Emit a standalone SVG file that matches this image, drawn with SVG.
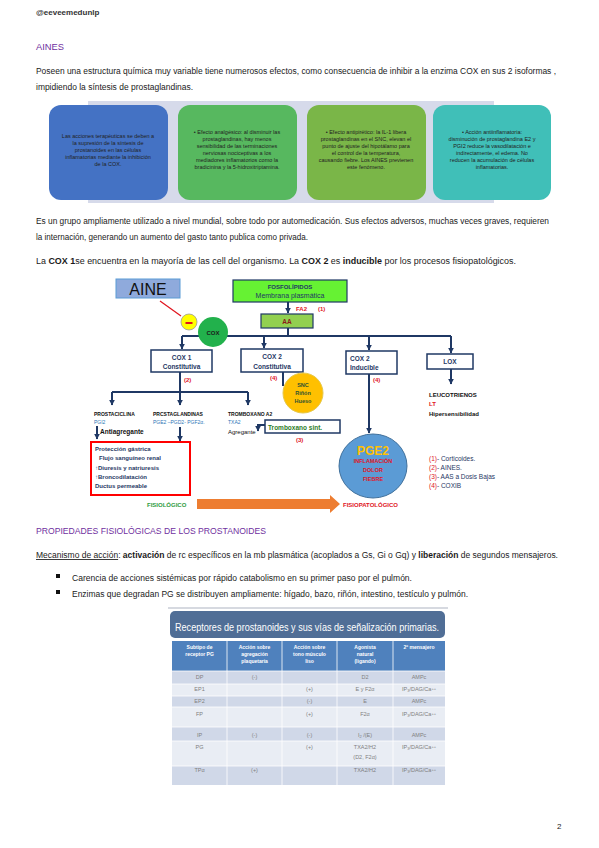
<svg xmlns="http://www.w3.org/2000/svg" width="599" height="848" viewBox="0 0 599 848">
<defs>
<style>
.body{font-family:"Liberation Sans",Arial,sans-serif;font-size:8.5px;fill:#1a1a1a}
.hand{font-family:"Liberation Sans",Arial,sans-serif;font-size:9px;fill:#7030A0;font-weight:300}
.bx{font-family:"Liberation Sans",Arial,sans-serif;font-size:5.5px;fill:#222;text-anchor:middle}
.d{font-family:"Liberation Sans",Arial,sans-serif}
.b{font-weight:bold}
.navy{fill:#1F3864}
.red{fill:#E0141E}
.blue{fill:#2E75B6}
.nd{fill:#fff;stroke:#1F3864;stroke-width:1.5}
.con{fill:none;stroke:#1F3864;stroke-width:2}
.th{font-family:"Liberation Sans",Arial,sans-serif;font-size:5px;fill:#fff;font-weight:bold;text-anchor:middle}
.td{font-family:"Liberation Sans",Arial,sans-serif;font-size:5.5px;fill:#808080;text-anchor:middle}
</style>
<marker id="ah" viewBox="0 0 10 10" refX="9" refY="5" markerWidth="3" markerHeight="3" orient="auto"><path d="M0,0L10,5L0,10z" fill="#1F3864"/></marker>
</defs>
<rect width="599" height="848" fill="#fff"/>

<!-- header -->
<text class="d b" x="36" y="15" font-size="8" fill="#333">@eeveemedunlp</text>
<text class="hand" x="36" y="50" textLength="28" lengthAdjust="spacingAndGlyphs">AINES</text>
<text class="body" x="36" y="74" textLength="520" lengthAdjust="spacingAndGlyphs">Poseen una estructura química muy variable tiene numerosos efectos, como consecuencia de inhibir a la enzima COX en sus 2 isoformas ,</text>
<text class="body" x="36" y="90" textLength="157" lengthAdjust="spacingAndGlyphs">impidiendo la síntesis de prostaglandinas.</text>

<!-- colored boxes -->
<g id="effects">
<rect x="88" y="101" width="406" height="102" fill="#D6DAEA"/>
<g id="box1"><rect x="49" y="105" width="119" height="95" rx="12" fill="#4472C4"/>
<text class="bx" fill="#1a1a3a"><tspan x="108" y="138">Las acciones terapéuticas se deben a</tspan><tspan x="108" y="145">la supresión de la síntesis de</tspan><tspan x="108" y="152">prostanoides en las células</tspan><tspan x="108" y="159">inflamatorias mediante la inhibición</tspan><tspan x="108" y="166">de la COX.</tspan></text></g>
<g id="box2"><rect x="178" y="105" width="119" height="95" rx="12" fill="#57B85F"/>
<text class="bx"><tspan x="237" y="134">• Efecto analgésico: al disminuir las</tspan><tspan x="237" y="141">prostaglandinas, hay menos</tspan><tspan x="237" y="148">sensibilidad de las terminaciones</tspan><tspan x="237" y="155">nerviosas nociceptivas a los</tspan><tspan x="237" y="162">mediadores inflamatorios como la</tspan><tspan x="237" y="169">bradicinina y la 5-hidroxitriptamina.</tspan></text></g>
<g id="box3"><rect x="307" y="105" width="119" height="95" rx="12" fill="#7AB648"/>
<text class="bx"><tspan x="366" y="134">• Efecto antipirético: la IL-1 libera</tspan><tspan x="366" y="141">prostaglandinas en el SNC, elevan el</tspan><tspan x="366" y="148">punto de ajuste del hipotálamo para</tspan><tspan x="366" y="155">el control de la temperatura,</tspan><tspan x="366" y="162">causando fiebre. Los AINES previenen</tspan><tspan x="366" y="169">este fenómeno.</tspan></text></g>
<g id="box4"><rect x="433" y="105" width="118" height="95" rx="12" fill="#40BFB8"/>
<text class="bx"><tspan x="492" y="134">• Acción antiinflamatoria:</tspan><tspan x="492" y="141">disminución de prostaglandina E2 y</tspan><tspan x="492" y="148">PGI2 reduce la vasodilatación e</tspan><tspan x="492" y="155">indirectamente, el edema. No</tspan><tspan x="492" y="162">reducen la acumulación de células</tspan><tspan x="492" y="169">inflamatorias.</tspan></text></g>
</g>

<text class="body" x="36" y="224" textLength="513" lengthAdjust="spacingAndGlyphs">Es un grupo ampliamente utilizado a nivel mundial, sobre todo por automedicación. Sus efectos adversos, muchas veces graves, requieren</text>
<text class="body" x="36" y="240" textLength="272" lengthAdjust="spacingAndGlyphs">la internación, generando un aumento del gasto tanto publica como privada.</text>
<text class="body" x="36" y="264" textLength="480" lengthAdjust="spacingAndGlyphs">La <tspan font-weight="bold">COX 1</tspan>se encuentra en la mayoría de las cell del organismo. La <tspan font-weight="bold">COX 2</tspan> es <tspan font-weight="bold">inducible</tspan> por los procesos fisiopatológicos.</text>

<!-- connectors -->
<g id="connectors">
<line x1="160" y1="301" x2="181" y2="316" stroke="#E0141E" stroke-width="1.2"/>
<line class="con" x1="288" y1="302" x2="288" y2="313" marker-end="url(#ah)"/>
<path class="con" d="M288,328V336M182,336H451"/>
<line class="con" x1="182" y1="336" x2="182" y2="349" marker-end="url(#ah)"/>
<line class="con" x1="264" y1="336" x2="264" y2="348" marker-end="url(#ah)"/>
<line class="con" x1="369" y1="336" x2="369" y2="350" marker-end="url(#ah)"/>
<line class="con" x1="451" y1="336" x2="451" y2="353" marker-end="url(#ah)"/>
<path class="con" d="M180,372V392M112,392H248"/>
<line class="con" x1="112" y1="392" x2="112" y2="405" marker-end="url(#ah)"/>
<line class="con" x1="180" y1="392" x2="180" y2="405" marker-end="url(#ah)"/>
<line class="con" x1="248" y1="392" x2="248" y2="405" marker-end="url(#ah)"/>
<line class="con" x1="283" y1="372" x2="283" y2="386"/>
<line class="con" x1="369" y1="374" x2="369" y2="433" stroke-width="1.5" marker-end="url(#ah)"/>
<line class="con" x1="451" y1="369" x2="451" y2="384" stroke-width="1.5" marker-end="url(#ah)"/>
<line class="con" x1="97" y1="426" x2="97" y2="439" stroke-width="1.2" marker-end="url(#ah)"/>
<line class="con" x1="180" y1="427" x2="180" y2="441" stroke-width="1.2" marker-end="url(#ah)"/>
<path class="con" d="M265,425H258V431" stroke-width="1.2" marker-end="url(#ah)"/>
<path d="M197,499H330V495L340,504L330,513V509H197Z" fill="#ED7D31"/>
</g>

<!-- nodes -->
<g id="aine"><rect x="116" y="279" width="64" height="19" fill="#8FAADC" stroke="#5B9BD5" stroke-width="1"/>
<text class="d" x="148" y="295" font-size="16" text-anchor="middle" fill="#111">AINE</text></g>
<g id="minus"><circle cx="189" cy="322" r="8" fill="#FFFF00" stroke="#999" stroke-width="0.8"/><rect x="185.5" y="322" width="7" height="2" fill="#E0141E"/></g>
<g id="fosfo"><rect x="233" y="280" width="114" height="22" fill="#66F233" stroke="#1F3864" stroke-width="1.2"/>
<text class="d b navy" x="290" y="289" font-size="6" text-anchor="middle">FOSFOLÍPIDOS</text>
<text class="d navy" x="290" y="298" font-size="7" text-anchor="middle">Membrana plasmática</text></g>
<text class="d b red" x="296" y="311" font-size="6">FA2</text>
<text class="d b red" x="318" y="311" font-size="6">(1)</text>
<g id="aa"><rect x="261" y="314" width="52" height="14" fill="#92D050" stroke="#1F3864" stroke-width="1.2"/>
<text class="d b" x="287" y="324" font-size="6.5" text-anchor="middle" fill="#8B1A1A">AA</text></g>
<g id="cox"><circle cx="213" cy="332" r="15" fill="#22B14C"/>
<text class="d b" x="213" y="334.5" font-size="6" text-anchor="middle" fill="#1a1a1a">COX</text></g>
<g id="cox1"><rect class="nd" x="151" y="350" width="61" height="22"/>
<text class="d b navy" x="181.5" y="360" font-size="6.5" text-anchor="middle">COX 1</text>
<text class="d b navy" x="181.5" y="369" font-size="6.5" text-anchor="middle">Constitutiva</text></g>
<g id="cox2c"><rect class="nd" x="241" y="349" width="62" height="23"/>
<text class="d b navy" x="272" y="359" font-size="6.5" text-anchor="middle">COX 2</text>
<text class="d b navy" x="272" y="368.5" font-size="6.5" text-anchor="middle">Constitutiva</text></g>
<g id="cox2i"><rect class="nd" x="346" y="351" width="51" height="23"/>
<text class="d b navy" x="350" y="361" font-size="6.5">COX 2</text>
<text class="d b navy" x="350" y="370" font-size="6.5">Inducible</text></g>
<g id="lox"><rect class="nd" x="427" y="354" width="46" height="15"/>
<text class="d b navy" x="450" y="364" font-size="6.5" text-anchor="middle">LOX</text></g>
<text class="d b red" x="184" y="382" font-size="6">(2)</text>
<text class="d b red" x="270" y="380" font-size="6">(4)</text>
<text class="d b red" x="373" y="382" font-size="6">(4)</text>
<g id="snc"><circle cx="303" cy="393" r="20" fill="#FFC000" stroke="#E6C84A" stroke-width="1"/>
<text class="d b" font-size="5.5" text-anchor="middle" fill="#2F5233"><tspan x="303" y="387">SNC</tspan><tspan x="303" y="395">Riñón</tspan><tspan x="303" y="403">Hueso</tspan></text></g>
<g id="prostaciclina"><text class="d b" x="94" y="416" font-size="5" fill="#111">PROSTACICLINA</text>
<text class="d blue" x="94" y="424" font-size="5">PGI2</text>
<text class="d b" x="100" y="434" font-size="6.5" fill="#111">Antiagregante</text></g>
<g id="prostaglandinas"><text class="d b" x="153" y="416" font-size="5" fill="#111">PRCSTAGLANDINAS</text>
<text class="d blue" x="153" y="424" font-size="5">PGE2 –PGD2- PGF2α.</text></g>
<g id="tromboxano"><text class="d b" x="228" y="416" font-size="5" fill="#111">TROMBOXANO A2</text>
<text class="d blue" x="228" y="424" font-size="5">TXA2</text>
<text class="d" x="228" y="434" font-size="6" fill="#111">Agregante</text></g>
<g id="txsint"><rect class="nd" x="265" y="420" width="75" height="13" stroke-width="1.2"/>
<text class="d b" x="268" y="430" font-size="6.5" fill="#2E7D1F">Tromboxano sint.</text></g>
<text class="d b red" x="296" y="442" font-size="6">(3)</text>
<g id="efectos"><rect x="91" y="442" width="99" height="53" fill="#fff" stroke="#FF0000" stroke-width="2"/>
<text class="d b navy" font-size="6"><tspan x="95" y="451">Protección gástrica</tspan><tspan x="99" y="460">Flujo sanguíneo renal</tspan><tspan x="95" y="470"><tspan class="blue">↑</tspan>Diuresis y natriuresis</tspan><tspan x="95" y="479"><tspan class="blue">↑</tspan>Broncodilatación</tspan><tspan x="95" y="488">Ductus permeable</tspan></text></g>
<text class="d b" x="147" y="507" font-size="6" fill="#2E9B3E">FISIOLÓGICO</text>
<text class="d b red" x="343" y="507" font-size="6">FISIOPATOLÓGICO</text>
<g id="pge2"><ellipse cx="373" cy="466" rx="34" ry="32" fill="#5B9BD5" stroke="#41719C" stroke-width="1"/>
<text class="d b" x="373" y="455" font-size="12" text-anchor="middle" fill="#FFC000">PGE2</text>
<text class="d b red" font-size="5.5" text-anchor="middle"><tspan x="373" y="463">INFLAMACIÓN</tspan><tspan x="373" y="472">DOLOR</tspan><tspan x="373" y="481">FIEBRE</tspan></text></g>
<g id="leuco"><text class="d b" font-size="6" fill="#111"><tspan x="429" y="397">LEUCOTRIENOS</tspan></text>
<text class="d b red" x="429" y="406" font-size="6">LT</text>
<text class="d b" x="429" y="416" font-size="6" fill="#111">Hipersensibilidad</text></g>
<g id="legend"><text class="d navy" font-size="6.5"><tspan x="429" y="461"><tspan class="red">(1)</tspan>- Corticoides.</tspan><tspan x="429" y="470"><tspan class="red">(2)</tspan>- AINES.</tspan><tspan x="429" y="479"><tspan class="red">(3)</tspan>- AAS a Dosis Bajas</tspan><tspan x="429" y="488"><tspan class="red">(4)</tspan>- COXIB</tspan></text></g>

<!-- section 2 -->
<text class="hand" x="36" y="534" textLength="230" lengthAdjust="spacingAndGlyphs">PROPIEDADES FISIOLÓGICAS DE LOS PROSTANOIDES</text>
<text class="body" x="36" y="558" textLength="522" lengthAdjust="spacingAndGlyphs"><tspan text-decoration="underline">Mecanismo de acción</tspan>: <tspan font-weight="bold">activación</tspan> de rc específicos en la mb plasmática (acoplados a Gs, Gi o Gq) y <tspan font-weight="bold">liberación</tspan> de segundos mensajeros.</text>
<rect x="56" y="574" width="4" height="4" fill="#111"/>
<text class="body" x="72" y="581" textLength="340" lengthAdjust="spacingAndGlyphs">Carencia de acciones sistémicas por rápido catabolismo en su primer paso por el pulmón.</text>
<rect x="56" y="590" width="4" height="4" fill="#111"/>
<text class="body" x="72" y="597" textLength="396" lengthAdjust="spacingAndGlyphs">Enzimas que degradan PG se distribuyen ampliamente: hígado, bazo, riñón, intestino, testículo y pulmón.</text>

<!-- table -->
<g id="table">
<line x1="168" y1="608" x2="448" y2="608" stroke="#C8CCD6" stroke-width="1.5"/>
<rect x="170" y="611" width="275" height="27" rx="5" fill="#506E96"/>
<text class="d" x="175" y="631" font-size="11" fill="#fff" textLength="264" lengthAdjust="spacingAndGlyphs">Receptores de prostanoides y sus vías de señalización primarias.</text>
<rect x="172" y="641" width="273" height="30" fill="#4F81BD"/>
<rect x="172" y="671" width="273" height="13" fill="#D0D8E8"/>
<rect x="172" y="684" width="273" height="12" fill="#E9EDF4"/>
<rect x="172" y="696" width="273" height="11" fill="#D0D8E8"/>
<rect x="172" y="707" width="273" height="20" fill="#E9EDF4"/>
<rect x="172" y="727" width="273" height="14" fill="#D0D8E8"/>
<rect x="172" y="741" width="273" height="25" fill="#E9EDF4"/>
<rect x="172" y="766" width="273" height="19" fill="#D0D8E8"/>
<path d="M227,641V785M282,641V785M337,641V785M393,641V785M172,671H445M172,684H445M172,696H445M172,707H445M172,727H445M172,741H445M172,766H445" stroke="#fff" stroke-width="0.8"/>
<text class="th"><tspan x="199.5" y="649">Subtipo de</tspan><tspan x="199.5" y="656">receptor PG</tspan></text>
<text class="th"><tspan x="254.5" y="649">Acción sobre</tspan><tspan x="254.5" y="656">agregación</tspan><tspan x="254.5" y="663">plaquetaria</tspan></text>
<text class="th"><tspan x="309.5" y="649">Acción sobre</tspan><tspan x="309.5" y="656">tono músculo</tspan><tspan x="309.5" y="663">liso</tspan></text>
<text class="th"><tspan x="365" y="649">Agonista</tspan><tspan x="365" y="656">natural</tspan><tspan x="365" y="663">(ligando)</tspan></text>
<text class="th"><tspan x="419" y="649">2º mensajero</tspan></text>
<text class="td"><tspan x="199.5" y="679">DP</tspan><tspan x="254.5" y="679">(-)</tspan><tspan x="365" y="679">D2</tspan><tspan x="419" y="679">AMPc</tspan></text>
<text class="td"><tspan x="199.5" y="691">EP1</tspan><tspan x="309.5" y="691">(+)</tspan><tspan x="365" y="691">E y F2α</tspan><tspan x="419" y="691">IP<tspan font-size="4" dy="1">3</tspan><tspan dy="-1">/DAG/Ca</tspan><tspan font-size="4" dy="-1.5">++</tspan></tspan></text>
<text class="td"><tspan x="199.5" y="703">EP2</tspan><tspan x="309.5" y="703">(-)</tspan><tspan x="365" y="703">E</tspan><tspan x="419" y="703">AMPc</tspan></text>
<text class="td"><tspan x="199.5" y="716">FP</tspan><tspan x="309.5" y="716">(+)</tspan><tspan x="365" y="716">F2α</tspan><tspan x="419" y="716">IP<tspan font-size="4" dy="1">3</tspan><tspan dy="-1">/DAG/Ca</tspan><tspan font-size="4" dy="-1.5">++</tspan></tspan></text>
<text class="td"><tspan x="199.5" y="737">IP</tspan><tspan x="254.5" y="737">(-)</tspan><tspan x="309.5" y="737">(-)</tspan><tspan x="365" y="737">I<tspan font-size="4" dy="1">2</tspan><tspan dy="-1"> /(E)</tspan></tspan><tspan x="419" y="737">AMPc</tspan></text>
<text class="td"><tspan x="199.5" y="749">PG</tspan><tspan x="309.5" y="749">(+)</tspan><tspan x="365" y="749">TXA2/H2</tspan><tspan x="365" y="759">(D2, F2α)</tspan><tspan x="419" y="749">IP<tspan font-size="4" dy="1">3</tspan><tspan dy="-1">/DAG/Ca</tspan><tspan font-size="4" dy="-1.5">++</tspan></tspan></text>
<text class="td"><tspan x="199.5" y="772">TPα</tspan><tspan x="254.5" y="772">(+)</tspan><tspan x="365" y="772">TXA2/H2</tspan><tspan x="419" y="772">IP<tspan font-size="4" dy="1">3</tspan><tspan dy="-1">/DAG/Ca</tspan><tspan font-size="4" dy="-1.5">++</tspan></tspan></text>
</g>

<text class="d" x="557" y="829" font-size="8" fill="#222">2</text>
</svg>
